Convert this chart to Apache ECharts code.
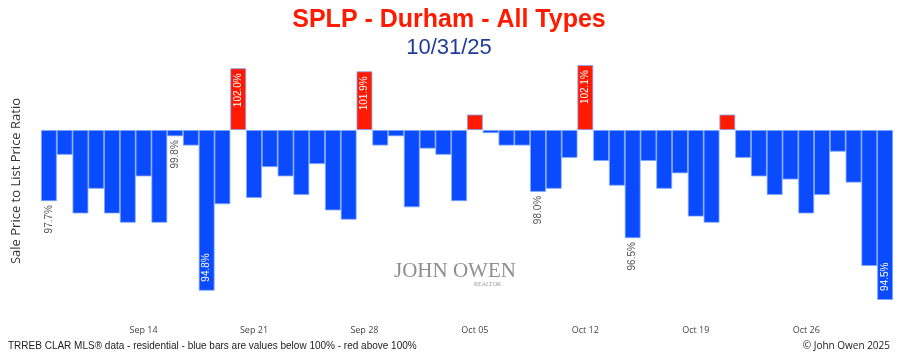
<!DOCTYPE html>
<html>
<head>
<meta charset="utf-8">
<script src="https://cdn.jsdelivr.net/npm/echarts@6/dist/echarts.min.js"></script>
<style>
  html, body { margin: 0; padding: 0; background: #fff; }
  #chart { width: 898px; height: 364px; }
</style>
</head>
<body>
<div id="chart"></div>
<script>
// daily dates, Sep 08 -> Oct 31
const dates = [
  'Sep 08', 'Sep 09', 'Sep 10', 'Sep 11', 'Sep 12', 'Sep 13', 'Sep 14',
  'Sep 15', 'Sep 16', 'Sep 17', 'Sep 18', 'Sep 19', 'Sep 20', 'Sep 21',
  'Sep 22', 'Sep 23', 'Sep 24', 'Sep 25', 'Sep 26', 'Sep 27', 'Sep 28',
  'Sep 29', 'Sep 30', 'Oct 01', 'Oct 02', 'Oct 03', 'Oct 04', 'Oct 05',
  'Oct 06', 'Oct 07', 'Oct 08', 'Oct 09', 'Oct 10', 'Oct 11', 'Oct 12',
  'Oct 13', 'Oct 14', 'Oct 15', 'Oct 16', 'Oct 17', 'Oct 18', 'Oct 19',
  'Oct 20', 'Oct 21', 'Oct 22', 'Oct 23', 'Oct 24', 'Oct 25', 'Oct 26',
  'Oct 27', 'Oct 28', 'Oct 29', 'Oct 30', 'Oct 31'
]

// sale price to list price ratio (%)
const ratios = [
  97.7, 99.2, 97.3, 98.1, 97.3, 97.0, 98.5, 97.0, 99.8, 99.5,
  94.8, 97.6, 102.0, 97.8, 98.8, 98.5, 97.9, 98.9, 97.4, 97.1,
  101.9, 99.5, 99.8, 97.5, 99.4, 99.2, 97.7, 100.5, 99.9, 99.5,
  99.5, 98.0, 98.1, 99.1, 102.1, 99.0, 98.2, 96.5, 99.0, 98.1,
  98.6, 97.2, 97.0, 100.5, 99.1, 98.5, 97.9, 98.4, 97.3, 97.9,
  99.3, 98.3, 95.6, 94.5
]

// bars that carry a value label
const labelled = [0, 8, 10, 12, 20, 31, 34, 37, 53]

const chart = echarts.init(document.getElementById('chart'))

const BLUE = '#0a4bff'
const RED = '#ff1a00'

// bars are drawn as the offset from 100%
const barData = ratios.map((v, i) => {
  const d = +(v - 100).toFixed(1)
  const item = {
    value: d,
    itemStyle: { color: d > 0 ? RED : BLUE }
  }
  if (labelled.includes(i)) {
    let label
    if (d > 0) {
      label = { position: 'insideTop', distance: 5, align: 'right', color: '#fff' }
    } else if (d < -5) {
      label = { position: 'insideBottom', distance: 9, align: 'left', color: '#fff' }
    } else {
      label = { position: 'bottom', distance: 4, align: 'right', color: '#555' }
    }
    item.label = Object.assign({
      show: true,
      rotate: 90,
      verticalAlign: 'middle',
      fontSize: 10,
      fontFamily: 'Liberation Sans, Arial, sans-serif',
      formatter: () => v.toFixed(1) + '%'
    }, label)
  }
  return item
})

const option = {
  backgroundColor: '#fff',
  animation: false,
  title: [
    {
      text: 'SPLP - Durham - All Types',
      left: 'center',
      top: 3,
      textStyle: {
        color: '#ff1a00',
        fontSize: 25,
        fontWeight: 'bold',
        fontFamily: 'Liberation Sans, Arial, sans-serif'
      }
    },
    {
      text: '10/31/25',
      left: 'center',
      top: 32,
      textStyle: {
        color: '#1f3c99',
        fontSize: 22,
        fontWeight: 'normal',
        fontFamily: 'Liberation Sans, Arial, sans-serif'
      }
    }
  ],
  grid: {
    left: 41,
    right: 5,
    top: 59,
    bottom: 61,
    containLabel: false
  },
  xAxis: {
    type: 'category',
    data: dates,
    axisLine: { show: false },
    axisTick: { show: false },
    axisLabel: {
      interval: (idx) => (idx - 6) % 7 === 0,
      margin: 23,
      color: '#444',
      fontSize: 9,
      fontFamily: 'Open Sans, sans-serif'
    }
  },
  yAxis: {
    type: 'value',
    min: -5.6,
    max: 2.3,
    name: 'Sale Price to List Price Ratio',
    nameLocation: 'middle',
    nameGap: 18,
    nameTextStyle: {
      color: '#333',
      fontSize: 13,
      fontFamily: 'Open Sans, sans-serif'
    },
    axisLine: { show: false },
    axisTick: { show: false },
    axisLabel: { show: false },
    splitLine: { show: false }
  },
  series: [{
    type: 'bar',
    data: barData,
    barCategoryGap: '0%',
    itemStyle: {
      borderColor: '#7fa6ff',
      borderWidth: 0.8
    }
  }],
  graphic: [
    {
      type: 'text',
      left: 394,
      top: 261,
      style: {
        text: 'JOHN OWEN',
        fill: '#8f8f8f',
        font: '21px "Liberation Serif", "DejaVu Serif", serif'
      }
    },
    {
      type: 'text',
      left: 474,
      top: 281,
      style: {
        text: 'REALTOR',
        fill: '#9a9a9a',
        font: '6px "Liberation Serif", serif'
      }
    },
    {
      type: 'text',
      left: 8,
      top: 341,
      style: {
        text: 'TRREB CLAR MLS\u00ae data - residential - blue bars are values below 100% - red above 100%',
        fill: '#222',
        font: '10px "Liberation Sans Narrow", "Liberation Sans", sans-serif'
      }
    },
    {
      type: 'text',
      right: 8,
      top: 341,
      style: {
        text: '\u00a9 John Owen 2025',
        fill: '#222',
        font: '10px "Open Sans", sans-serif'
      }
    }
  ]
}

chart.setOption(option)
</script>
</body>
</html>
